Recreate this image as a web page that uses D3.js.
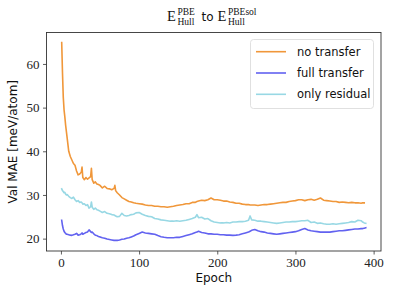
<!DOCTYPE html>
<html><head><meta charset="utf-8">
<script src="https://cdn.jsdelivr.net/npm/d3@7"></script>
<style>body{margin:0;background:#fff}</style>
</head><body>
<svg id="c" width="394" height="296"></svg>
<script>
const epochs = [1,2,3,4,5,6,7,8,10,12,14,16,18,20,22,24,26,27,28,30,32,34,36,38,39,40,42,44,46,48,50,53,56,59,62,65,68,69,70,72,75,78,81,84,87,90,93,96,100,104,108,112,116,120,124,128,132,136,140,144,148,152,156,160,164,168,172,174,176,180,184,188,192,196,200,204,208,212,216,220,224,228,232,236,240,242,244,248,252,256,260,264,268,272,276,280,284,288,292,296,300,304,308,312,316,320,324,328,332,336,340,344,348,352,356,360,364,368,372,376,380,384,386,388,390];
const noTransfer = [64.9,58,52.4,49.5,47.9,46,44.5,43,40,38.8,38.0,37.2,36.8,35.5,34.6,34.8,35.2,36.4,34.0,33.5,34.0,33.6,33.9,34.2,36.1,33.5,32.7,33.0,32.5,32.4,32.2,31.6,32.0,31.5,31.4,31.2,31.5,32.2,31.0,30.5,30.0,29.4,29.1,28.8,28.5,28.4,28.2,28.1,28.0,27.9,27.7,27.6,27.6,27.4,27.4,27.3,27.3,27.2,27.3,27.4,27.6,27.7,27.8,28.0,28.0,28.3,28.3,28.5,28.6,28.8,28.7,28.9,29.3,28.9,28.9,28.8,28.6,28.6,28.4,28.3,28.1,28.1,27.9,27.8,27.8,27.7,27.7,27.7,27.6,27.7,27.8,27.8,27.9,28.0,28.1,28.2,28.3,28.3,28.5,28.6,28.7,28.9,28.9,28.7,28.9,29.0,28.8,29.0,29.3,28.8,28.7,28.6,28.5,28.5,28.3,28.4,28.3,28.2,28.3,28.2,28.2,28.1,28.2,28.2];
const fullTransfer = [24.2,23.0,22.2,21.7,21.4,21.2,21.0,21.0,20.9,20.8,20.75,20.9,21.0,21.2,20.8,20.9,21.1,21.3,21.0,21.2,21.4,21.5,22.0,21.6,21.4,21.5,21.1,20.8,20.7,20.5,20.4,20.2,20.1,19.9,19.8,19.7,19.6,19.6,19.6,19.6,19.7,19.85,19.9,20.1,20.2,20.4,20.6,20.9,21.2,21.5,21.3,21.2,21.1,21.0,20.7,20.45,20.3,20.2,20.2,20.2,20.3,20.3,20.5,20.7,20.9,21.1,21.4,21.5,21.7,21.4,21.3,21.1,21.1,21.0,21.0,20.9,20.9,20.8,20.8,20.75,20.8,20.9,21.1,21.3,21.5,21.7,21.9,22.1,21.8,21.6,21.5,21.3,21.2,21.1,21.0,21.1,21.2,21.3,21.4,21.5,21.6,21.8,22.1,22.3,22.0,21.8,21.7,21.6,21.5,21.5,21.5,21.5,21.6,21.7,21.8,21.8,21.9,22.0,22.1,22.2,22.2,22.3,22.3,22.4,22.5];
const onlyResidual = [31.4,31.0,30.8,30.5,30.6,30.2,30.0,30.1,29.7,29.4,29.2,29.5,28.9,28.5,28.7,28.3,28.4,28.2,27.9,28.0,27.6,27.8,27.0,27.3,28.4,27.2,26.7,27.0,26.6,26.5,26.3,26.0,26.2,25.8,25.7,25.5,25.4,25.3,25.2,25.0,25.1,25.8,25.3,25.2,25.3,25.5,25.6,25.9,26.0,25.6,25.3,25.1,25.0,24.6,24.5,24.3,24.2,24.1,24.0,24.0,24.1,24.0,24.1,24.2,24.4,24.6,24.9,25.5,24.8,24.9,24.5,24.6,24.1,23.8,23.7,23.6,23.6,23.7,23.6,23.8,23.8,23.9,23.9,24.0,24.2,25.2,24.3,24.2,24.0,24.0,23.9,23.8,23.7,23.6,23.5,23.6,23.7,23.8,23.8,23.9,23.9,24.0,24.1,24.1,24.2,23.7,23.8,23.5,23.6,23.4,23.3,23.3,23.4,23.3,23.4,23.5,23.6,23.7,23.9,23.8,24.2,24.1,23.8,23.6,23.5];
const seriesNames = ["no transfer","full transfer","only residual"];
const seriesColors = ["#f0973a","#6262f0","#98d8e4"];
const xTicks = [0,100,200,300,400];
const yTicks = [20,30,40,50,60];

const svg = d3.select("#c");
const L=46.5, R=381, T=32.5, B=251;
const x = d3.scaleLinear().domain([-18.45,409.45]).range([L,R]);
const y = d3.scaleLinear().domain([17.17,67.2]).range([B,T]);
const serif = "'Liberation Serif', serif";
const sans = "'DejaVu Sans', sans-serif";

const series = [noTransfer, fullTransfer, onlyResidual];
const line = d3.line().x((d,i)=>x(epochs[i])).y(d=>y(d));
const g = svg.append("g");
series.forEach((s,k)=>{
  g.append("path").datum(s).attr("d",line).attr("fill","none")
   .attr("stroke",seriesColors[k]).attr("stroke-width",1.6).attr("stroke-linejoin","round").attr("stroke-linecap","square");
});

// axes
const xa = svg.append("g").attr("transform",`translate(0,${B})`)
  .call(d3.axisBottom(x).tickValues(xTicks).tickSize(3.5).tickPadding(3.5).tickFormat(d3.format("d")));
const ya = svg.append("g").attr("transform",`translate(${L},0)`)
  .call(d3.axisLeft(y).tickValues(yTicks).tickSize(3.5).tickPadding(3.5).tickFormat(d3.format("d")));
[xa,ya].forEach(a=>{
  a.select(".domain").remove();
  a.selectAll("line").attr("stroke","#333").attr("stroke-width",0.8);
  a.selectAll("text").attr("font-family",serif).attr("font-size",13).attr("fill","#222");
});
// frame
svg.append("rect").attr("x",L).attr("y",T).attr("width",R-L).attr("height",B-T)
  .attr("fill","none").attr("stroke","#333").attr("stroke-width",0.9);

// labels
svg.append("text").attr("x",(L+R)/2).attr("y",282).attr("text-anchor","middle")
  .attr("font-family",sans).attr("font-size",12).attr("fill","#111").text("Epoch");
svg.append("text").attr("transform",`translate(17,${(T+B)/2}) rotate(-90)`).attr("text-anchor","middle")
  .attr("font-family",sans).attr("font-size",12).attr("fill","#111").text("Val MAE [meV/atom]");

// title (math parts placed piece by piece)
const tg = svg.append("g").attr("font-family",serif).attr("fill","#111");
const big = 14.5, small = 9.5;
tg.append("text").attr("x",167).attr("y",20.5).attr("font-size",big).text("E");
tg.append("text").attr("x",177.5).attr("y",14.5).attr("font-size",small).text("PBE");
tg.append("text").attr("x",177.5).attr("y",25).attr("font-size",small).text("Hull");
tg.append("text").attr("x",201.5).attr("y",20.5).attr("font-size",12).attr("font-family",sans).text("to");
tg.append("text").attr("x",217.5).attr("y",20.5).attr("font-size",big).text("E");
tg.append("text").attr("x",228).attr("y",14.5).attr("font-size",small).text("PBEsol");
tg.append("text").attr("x",228).attr("y",25).attr("font-size",small).text("Hull");

// legend
const lg = svg.append("g");
lg.append("rect").attr("x",250.5).attr("y",39.5).attr("width",123).attr("height",69).attr("rx",3)
  .attr("fill","#fff").attr("fill-opacity",0.8).attr("stroke","#d8d8d8").attr("stroke-width",0.8);
seriesNames.forEach((n,k)=>{
  const yy = 51.7 + k*21.3;
  lg.append("line").attr("x1",256).attr("x2",286).attr("y1",yy).attr("y2",yy)
    .attr("stroke",seriesColors[k]).attr("stroke-width",1.6);
  lg.append("text").attr("x",297).attr("y",yy+4).attr("font-family",sans).attr("font-size",11.5)
    .attr("fill","#111").text(n);
});
</script>
</body></html>
